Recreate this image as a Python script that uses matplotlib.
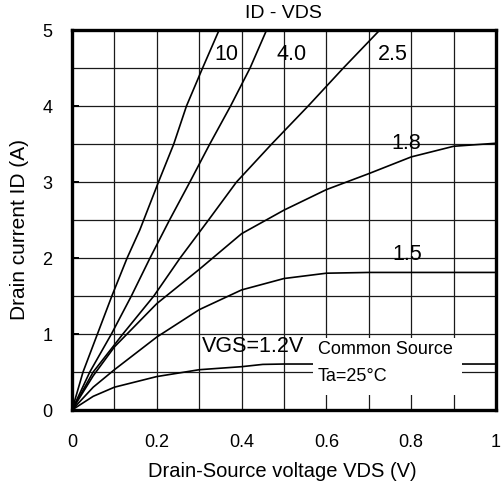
import matplotlib.pyplot as plt
import numpy as np
from matplotlib.patches import Rectangle

plt.rcParams['font.family'] = ['Liberation Sans', 'DejaVu Sans']

# ID - VDS curves, one pair of lists per VGS
v10 = [0, 0.026, 0.06, 0.094, 0.13, 0.16, 0.204, 0.24, 0.27, 0.308, 0.347]
i10 = [0, 0.5, 1.0, 1.5, 2.0, 2.37, 3.0, 3.5, 4.0, 4.5, 5.0]

v40 = [0, 0.042, 0.093, 0.14, 0.184, 0.23, 0.278, 0.325, 0.374, 0.42, 0.459]
i40 = [0, 0.5, 1.0, 1.5, 2.0, 2.5, 3.0, 3.5, 4.0, 4.5, 5.0]

v25 = [0, 0.05, 0.12, 0.193, 0.255, 0.322, 0.388, 0.471, 0.557, 0.64, 0.726]
i25 = [0, 0.5, 1.0, 1.5, 2.0, 2.5, 3.0, 3.5, 4.0, 4.5, 5.0]

v18 = [0, 0.05, 0.1, 0.2, 0.3, 0.4, 0.5, 0.6, 0.7, 0.8, 0.9, 1.0]
i18 = [0, 0.45, 0.83, 1.4, 1.85, 2.32, 2.63, 2.9, 3.11, 3.33, 3.47, 3.51]

v15 = [0, 0.05, 0.1, 0.2, 0.3, 0.4, 0.5, 0.6, 0.7, 0.8, 0.9, 1.0]
i15 = [0, 0.3, 0.53, 0.96, 1.32, 1.58, 1.73, 1.8, 1.81, 1.81, 1.81, 1.81]

v12 = [0, 0.05, 0.1, 0.2, 0.3, 0.4, 0.45, 0.5, 1.0]
i12 = [0, 0.18, 0.3, 0.44, 0.53, 0.57, 0.6, 0.605, 0.605]

curves = [(v10, i10), (v40, i40), (v25, i25), (v18, i18), (v15, i15), (v12, i12)]

xticks = [0, 0.2, 0.4, 0.6, 0.8, 1.0]
xticklabels = ['0', '0.2', '0.4', '0.6', '0.8', '1']
yticks = [0, 1, 2, 3, 4, 5]

fig = plt.figure(figsize=(5.01, 4.86), dpi=100)
ax = fig.add_axes([72/501, 76/486, 424/501, 380/486])

for v, i in curves:
    ax.plot(v, i, color='black', lw=1.2, zorder=2)

ax.set_xlim(0, 1)
ax.set_ylim(0, 5)
ax.set_xticks(xticks)
ax.set_xticklabels(xticklabels)
ax.set_xticks(np.arange(0, 1.01, 0.1), minor=True)
ax.set_yticks(yticks)
ax.set_yticks(np.arange(0, 5.01, 0.5), minor=True)
ax.grid(True, which='both', color='0.1', lw=0.9)
ax.set_axisbelow(True)
ax.tick_params(axis='x', which='both', length=0, labelsize=13, pad=17)
ax.tick_params(axis='y', which='major', direction='in', length=5, width=1.4, labelsize=13, pad=14)
ax.tick_params(axis='y', which='minor', length=0)
for s in ax.spines.values():
    s.set_linewidth(2.4)
    s.set_zorder(5)

# white box behind the conditions note
ax.add_patch(Rectangle((0.568, 0.197), 0.352, 0.75, facecolor='white',
                       edgecolor='none', zorder=3))
ax.text(0.58, 0.79, 'Common Source', fontsize=13, va='center', ha='left', zorder=4)
ax.text(0.58, 0.44, 'Ta=25°C', fontsize=13, va='center', ha='left', zorder=4)

# curve labels
ax.text(0.365, 4.68, '10', fontsize=15.5, ha='center', va='center')
ax.text(0.518, 4.68, '4.0', fontsize=15.5, ha='center', va='center')
ax.text(0.757, 4.68, '2.5', fontsize=15.5, ha='center', va='center')
ax.text(0.789, 3.51, '1.8', fontsize=15.5, ha='center', va='center')
ax.text(0.79, 2.04, '1.5', fontsize=15.5, ha='center', va='center')
ax.text(0.427, 0.84, 'VGS=1.2V', fontsize=15.5, ha='center', va='center')

ax.text(0.499, 1.043, 'ID - VDS', fontsize=14, ha='center', va='center',
        transform=ax.transAxes)
ax.set_xlabel('Drain-Source voltage VDS (V)', fontsize=14.5, va='center')
ax.xaxis.set_label_coords(0.495, -0.163)
ax.set_ylabel('Drain current ID (A)', fontsize=15, va='center')
ax.yaxis.set_label_coords(-0.123, 0.476)

plt.savefig('out.png', dpi=100)
